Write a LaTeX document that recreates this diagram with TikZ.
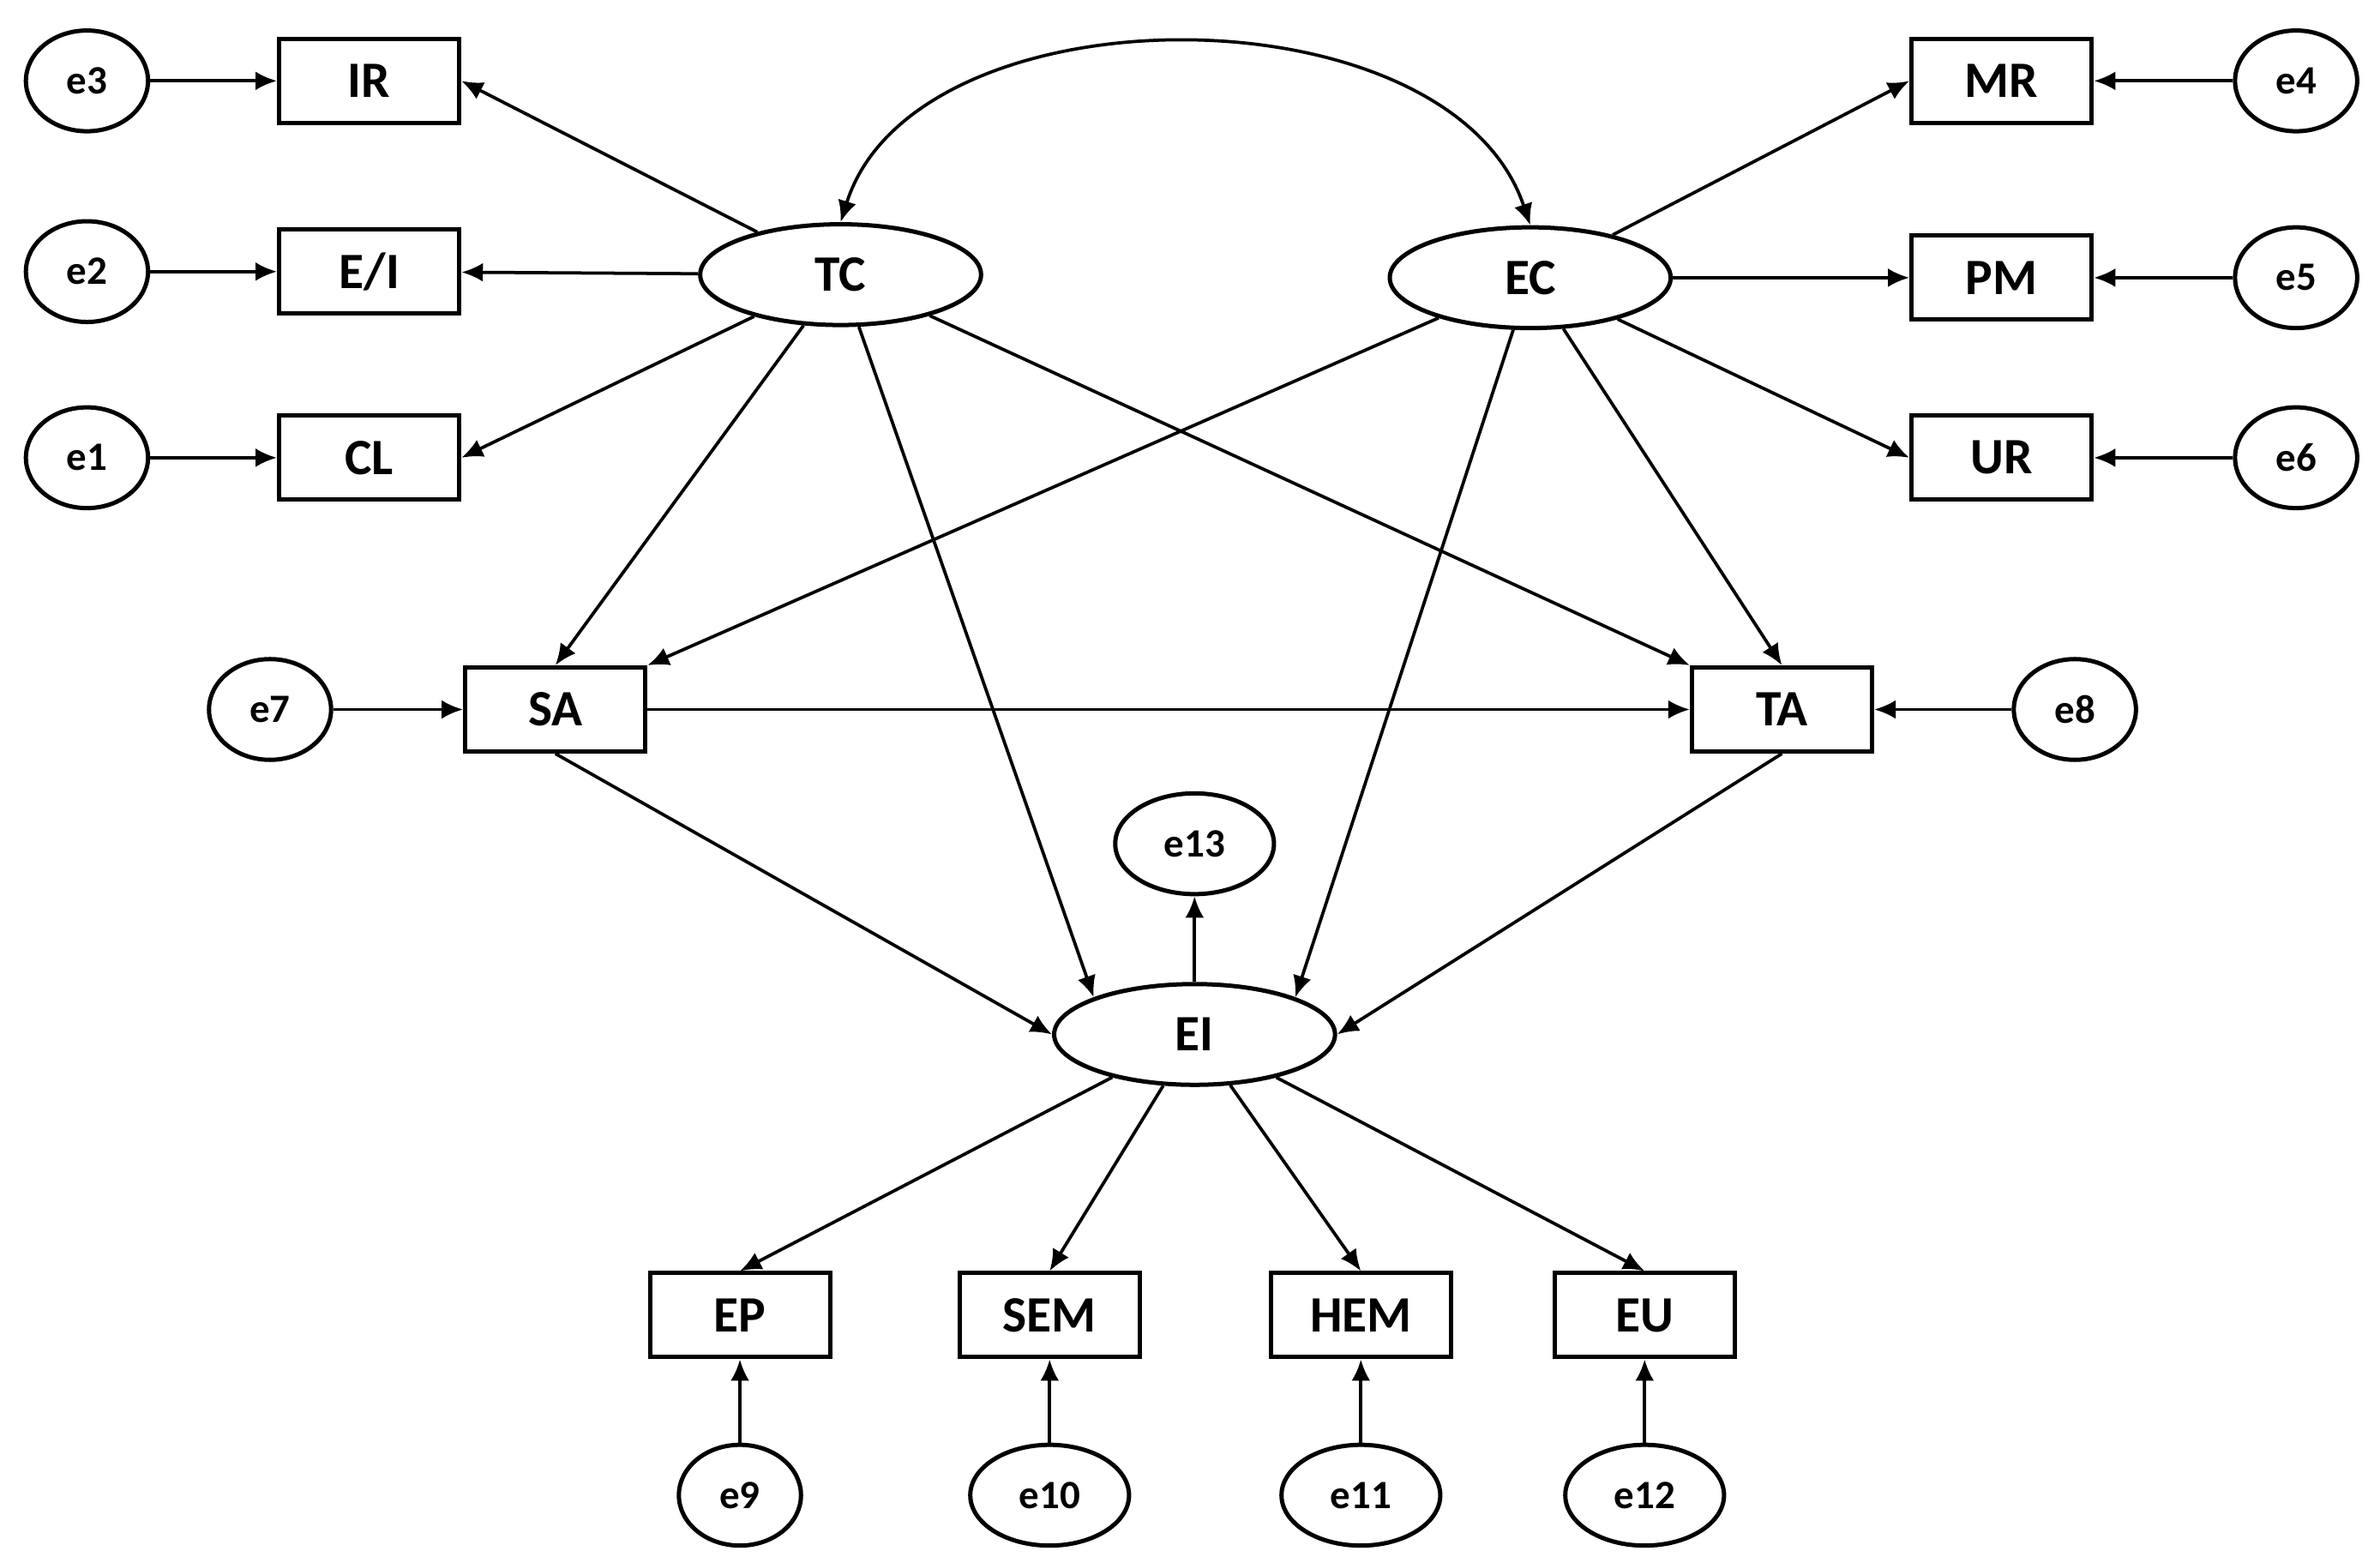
\documentclass[tikz,border=0pt]{standalone}
\usepackage{fontspec}
\setmainfont{Carlito}
\usetikzlibrary{arrows.meta,shapes.geometric}
\begin{document}
\begin{tikzpicture}[x=0.01cm,y=-0.01cm,
  box/.style={draw,thick,minimum width=1.18cm,minimum height=0.55cm,inner sep=0,font=\fontsize{9.5}{10}\selectfont\bfseries},
  lat/.style={draw,ellipse,thick,minimum width=1.84cm,minimum height=0.66cm,inner sep=0,font=\fontsize{9.5}{10}\selectfont\bfseries},
  err/.style={draw,ellipse,thick,minimum width=0.8cm,minimum height=0.66cm,inner sep=0,font=\fontsize{7.5}{8}\selectfont\bfseries},
  errw/.style={err,minimum width=1.04cm},
  arr/.style={-{Latex[length=4pt,width=3.5pt]},semithick}]
\useasboundingbox (0,0) rectangle (1560,1020);
\node[err] (e3) at (57,53) {e3};
\node[err] (e2) at (57,178) {e2};
\node[err] (e1) at (57,300) {e1};
\node[box] (IR) at (242,53) {IR};
\node[box] (EIb) at (242,178) {E/I};
\node[box] (CL) at (242,300) {CL};
\node[lat] (TC) at (551,180) {TC};
\node[lat] (EC) at (1003,182) {EC};
\node[box] (MR) at (1312,53) {MR};
\node[box] (PM) at (1312,182) {PM};
\node[box] (UR) at (1312,300) {UR};
\node[err] (e4) at (1505,53) {e4};
\node[err] (e5) at (1505,182) {e5};
\node[err] (e6) at (1505,300) {e6};
\node[box] (SA) at (364,465) {SA};
\node[err] (e7) at (177,465) {e7};
\node[box] (TA) at (1168,465) {TA};
\node[err] (e8) at (1360,465) {e8};
\node[errw] (e13) at (783,553) {e13};
\node[lat] (EI) at (783,678) {EI};
\node[box] (EP) at (485,862) {EP};
\node[box] (SEM) at (688,862) {SEM};
\node[box] (HEM) at (892,862) {HEM};
\node[box] (EU) at (1078,862) {EU};
\node[err] (e9) at (485,980) {e9};
\node[errw] (e10) at (688,980) {e10};
\node[errw] (e11) at (892,980) {e11};
\node[errw] (e12) at (1078,980) {e12};
\draw[arr] (e3) -- (IR); \draw[arr] (e2) -- (EIb); \draw[arr] (e1) -- (CL);
\draw[arr] (TC) -- (IR.east); \draw[arr] (TC) -- (EIb); \draw[arr] (TC) -- (CL.east);
\draw[arr] (EC) -- (MR.west); \draw[arr] (EC) -- (PM); \draw[arr] (EC) -- (UR.west);
\draw[arr] (e4) -- (MR); \draw[arr] (e5) -- (PM); \draw[arr] (e6) -- (UR);
\draw[{Latex[length=4pt,width=3.5pt]}-{Latex[length=4pt,width=3.5pt]},semithick] (TC.north) .. controls (600,-10) and (950,-10) .. (EC.north);
\draw[arr] (TC) -- (SA.north); \draw[arr] (TC) -- (TA.north west); \draw[arr] (TC) -- (EI.north west);
\draw[arr] (EC) -- (SA.north east); \draw[arr] (EC) -- (TA.north); \draw[arr] (EC) -- (EI.north east);
\draw[arr] (e7) -- (SA); \draw[arr] (e8) -- (TA); \draw[arr] (SA) -- (TA);
\draw[arr] (SA.south) -- (EI.west); \draw[arr] (TA.south) -- (EI.east);
\draw[arr] (EI) -- (e13);
\draw[arr] (EI) -- (EP.north); \draw[arr] (EI) -- (SEM.north); \draw[arr] (EI) -- (HEM.north); \draw[arr] (EI) -- (EU.north);
\draw[arr] (e9) -- (EP); \draw[arr] (e10) -- (SEM); \draw[arr] (e11) -- (HEM); \draw[arr] (e12) -- (EU);
\end{tikzpicture}
\end{document}
